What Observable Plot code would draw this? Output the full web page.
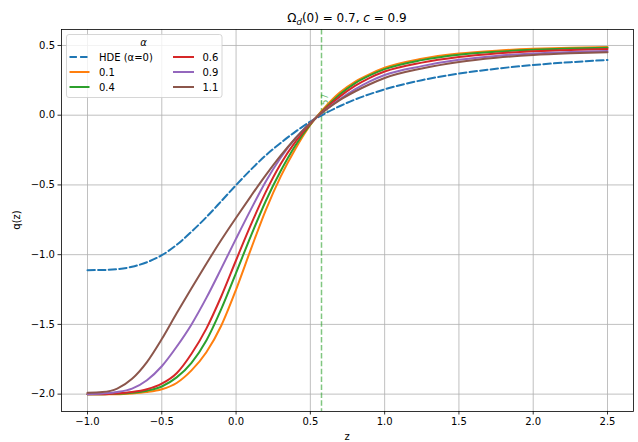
<!DOCTYPE html>
<html><head><meta charset="utf-8">
<script src="https://cdn.jsdelivr.net/npm/d3@7"></script>
<script src="https://cdn.jsdelivr.net/npm/@observablehq/plot@0.6"></script>
<style>body{margin:0;background:#fff}#chart{width:638px;height:442px}</style>
</head><body><div id="chart"></div>
<script>
// HDE (alpha = 0) curve
const zHDE = [-1.0,-0.9,-0.8,-0.7,-0.6,-0.5,-0.4,-0.3,-0.2,-0.1,0.0,0.1,0.2,0.3,0.4,0.5,0.6,0.7,0.8,1.0,1.25,1.5,1.75,2.0,2.25,2.5];
const qHDE = [-1.111,-1.110,-1.104,-1.087,-1.054,-1.004,-0.930,-0.835,-0.731,-0.617,-0.501,-0.390,-0.288,-0.199,-0.118,-0.046,0.013,0.066,0.112,0.185,0.251,0.298,0.333,0.360,0.380,0.396];

// alpha curves
const zAlpha = [-1.0,-0.9,-0.8,-0.7,-0.6,-0.5,-0.4,-0.3,-0.2,-0.1,0.0,0.1,0.2,0.3,0.4,0.5,0.6,0.7,0.8,0.9,1.0,1.25,1.5,1.75,2.0,2.25,2.5];
const q01 = [-2.00,-2.00,-2.00,-1.995,-1.985,-1.965,-1.92,-1.83,-1.70,-1.51,-1.25,-0.96,-0.68,-0.44,-0.24,-0.07,0.06,0.165,0.24,0.295,0.34,0.405,0.442,0.463,0.476,0.484,0.489];
const q04 = [-2.00,-2.00,-1.998,-1.99,-1.975,-1.945,-1.88,-1.775,-1.615,-1.39,-1.13,-0.865,-0.615,-0.40,-0.215,-0.065,0.05,0.15,0.228,0.285,0.330,0.395,0.433,0.455,0.469,0.478,0.483];
const q06 = [-2.00,-2.00,-1.995,-1.985,-1.965,-1.925,-1.85,-1.71,-1.53,-1.30,-1.04,-0.785,-0.55,-0.35,-0.19,-0.06,0.045,0.135,0.21,0.268,0.313,0.377,0.417,0.442,0.458,0.468,0.474];
const q09 = [-2.00,-1.995,-1.985,-1.96,-1.90,-1.80,-1.66,-1.50,-1.31,-1.10,-0.885,-0.675,-0.475,-0.305,-0.165,-0.055,0.035,0.115,0.185,0.242,0.288,0.352,0.397,0.425,0.443,0.454,0.461];
const q11 = [-1.99,-1.985,-1.96,-1.89,-1.77,-1.605,-1.42,-1.24,-1.065,-0.895,-0.735,-0.58,-0.43,-0.29,-0.165,-0.055,0.035,0.11,0.17,0.222,0.267,0.335,0.382,0.412,0.432,0.444,0.452];
const alphaLabels = ["0.1","0.4","0.6","0.9","1.1"];
const alphaColors = ["#ff7f0e","#2ca02c","#d62728","#9467bd","#8c564b"];
const hdeLabel = "HDE (α=0)";
const hdeColor = "#1f77b4";

const zTransition = 0.575;
const transitionLabel = "0.57";

const xTicks = [-1.0,-0.5,0.0,0.5,1.0,1.5,2.0,2.5];
const yTicks = [-2.0,-1.5,-1.0,-0.5,0.0,0.5];

const hdeData = zHDE.map((z,i)=>({z, q:qHDE[i]}));
const series = [q01,q04,q06,q09,q11];
const alphaData = series.flatMap((qs,k)=>zAlpha.map((z,i)=>({z, q:qs[i], alpha:alphaLabels[k]})));
const fmt = d3.format(".1f");

const W = 638, H = 442, mL = 61, mR = 5, mT = 29, mB = 31;

const svg = Plot.plot({
  width: W, height: H,
  marginLeft: mL, marginRight: mR, marginTop: mT, marginBottom: mB,
  x: {domain: [-1.175, 2.675]},
  y: {domain: [-2.1245, 0.6145]},
  color: {domain: alphaLabels, range: alphaColors},
  style: {fontFamily: "'DejaVu Sans', sans-serif", fontSize: "10px", background: "white", color: "black"},
  marks: [
    Plot.gridX(xTicks, {stroke: "#b0b0b0", strokeOpacity: 1, strokeWidth: 0.8}),
    Plot.gridY(yTicks, {stroke: "#b0b0b0", strokeOpacity: 1, strokeWidth: 0.8}),
    Plot.ruleX([zTransition], {stroke: "#2ca02c", strokeOpacity: 0.6, strokeWidth: 1.5, strokeDasharray: "5.5,2.4"}),
    Plot.text([zTransition], {x: d=>d, y: 0.01, text: d=>transitionLabel, rotate: -90, textAnchor: "start", lineAnchor: "top", fill: "#2ca02c", fillOpacity: 0.75, fontSize: 9}),
    Plot.line(hdeData, {x: "z", y: "q", stroke: hdeColor, strokeWidth: 2, strokeDasharray: "7.4,3.2", curve: "monotone-x"}),
    Plot.line(alphaData, {x: "z", y: "q", z: "alpha", stroke: "alpha", strokeWidth: 2, curve: "monotone-x"}),
    Plot.frame({stroke: "black", strokeWidth: 0.8}),
    Plot.axisX(xTicks, {tickSize: 3.5, tickPadding: 3, tickFormat: fmt, label: null, strokeWidth: 0.8}),
    Plot.axisY(yTicks, {tickSize: 3.5, tickPadding: 3, tickFormat: fmt, label: null, strokeWidth: 0.8})
  ]
});
document.getElementById("chart").appendChild(svg);

const s = d3.select(svg);
const font = "'DejaVu Sans', sans-serif";
// title
const t = s.append("text").attr("x", (mL + W - mR)/2).attr("y", 21.5).attr("text-anchor","middle")
  .attr("font-family", font).attr("font-size", 12).attr("fill","black");
t.append("tspan").text("Ω");
t.append("tspan").attr("font-style","italic").attr("font-size", 8.5).attr("dy", 3).text("d");
t.append("tspan").attr("dy", -3).text("(0) = 0.7, ");
t.append("tspan").attr("font-style","italic").text("c");
t.append("tspan").text(" = 0.9");
// axis labels
s.append("text").attr("x", (mL + W - mR)/2).attr("y", 440).attr("text-anchor","middle")
  .attr("font-family", font).attr("font-size", 10).text("z");
s.append("text").attr("transform", `translate(19.5,${(mT + H - mB)/2}) rotate(-90)`).attr("text-anchor","middle")
  .attr("font-family", font).attr("font-size", 10).text("q(z)");
// legend
const lg = s.append("g");
lg.append("rect").attr("x", 66.5).attr("y", 34.5).attr("width", 155.5).attr("height", 63).attr("rx", 2.5)
  .attr("fill","white").attr("fill-opacity",0.8).attr("stroke","#cccccc").attr("stroke-width",0.8);
lg.append("text").attr("x", 143.5).attr("y", 42).attr("text-anchor","middle").attr("dominant-baseline","central")
  .attr("font-family", font).attr("font-size", 10).attr("font-style","italic").text("α");
const entries = [
  {label: hdeLabel, color: hdeColor, dash: "7.4,3.2"},
  ...alphaLabels.map((l,i)=>({label: l, color: alphaColors[i], dash: null}))
];
const rowsY = [57, 72, 87];
const cols = [{x1: 69.5, x2: 89.5, tx: 99}, {x1: 173, x2: 194, tx: 202.5}];
entries.forEach((e,i)=>{
  const c = cols[Math.floor(i/3)], y = rowsY[i%3];
  const ln = lg.append("line").attr("x1", c.x1).attr("x2", c.x2).attr("y1", y).attr("y2", y)
    .attr("stroke", e.color).attr("stroke-width", 2);
  if (e.dash) ln.attr("stroke-dasharray", e.dash);
  lg.append("text").attr("x", c.tx).attr("y", y).attr("text-anchor","start").attr("dominant-baseline","central")
    .attr("font-family", font).attr("font-size", 10).text(e.label);
});
</script>
</body></html>
